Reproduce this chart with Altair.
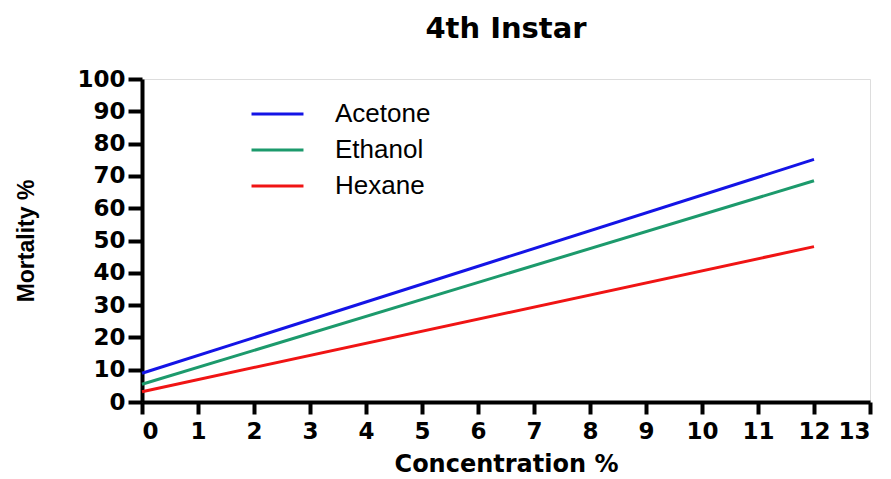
import altair as alt
import pandas as pd

series = ["Acetone", "Ethanol", "Hexane"]
conc = [0, 12]
acetone = [8.9, 75.1]
ethanol = [5.5, 68.5]
hexane = [3.2, 48.1]
colors = ["#1414e6", "#1c9a6c", "#f01414"]

rows = []
for name, vals in zip(series, [acetone, ethanol, hexane]):
    for c, v in zip(conc, vals):
        rows.append({"Solvent": name, "Concentration": c, "Mortality": v})
df = pd.DataFrame(rows)

chart = alt.Chart(df).mark_line(strokeWidth=3).encode(
    x=alt.X("Concentration:Q",
            scale=alt.Scale(domain=[0, 13], nice=False, zero=True),
            axis=alt.Axis(title="Concentration %", values=list(range(0, 14)),
                          grid=False, domainWidth=4, domainColor="black",
                          tickWidth=4, tickSize=12, tickColor="black",
                          labelFont="DejaVu Sans", labelFontWeight="bold",
                          labelFontSize=23, labelColor="black", labelPadding=6,
                          titleFont="DejaVu Sans", titleFontWeight="bold",
                          titleFontSize=24, titleColor="black", titlePadding=9)),
    y=alt.Y("Mortality:Q",
            scale=alt.Scale(domain=[0, 100], nice=False),
            axis=alt.Axis(title="Mortality %", values=list(range(0, 101, 10)),
                          grid=False, domainWidth=4, domainColor="black",
                          tickWidth=4, tickSize=14, tickColor="black",
                          labelFont="DejaVu Sans", labelFontWeight="bold",
                          labelFontSize=23, labelColor="black", labelPadding=3,
                          titleFont="Liberation Sans", titleFontWeight="bold",
                          titleFontSize=23, titleColor="black", titlePadding=38)),
    color=alt.Color("Solvent:N",
                    scale=alt.Scale(domain=series, range=colors),
                    legend=alt.Legend(title=None, orient="none", legendX=108, legendY=17,
                                      symbolType="stroke", symbolSize=2700,
                                      symbolStrokeWidth=3, labelFont="Liberation Sans",
                                      labelFontSize=26, labelColor="black",
                                      labelOffset=30, clipHeight=36, rowPadding=0)),
).properties(
    width=728,
    height=323,
    title=alt.TitleParams("4th Instar", font="DejaVu Sans", fontWeight="bold",
                          fontSize=29, color="black", offset=24, anchor="middle"),
    autosize=alt.AutoSizeParams(type="none"),
    padding={"left": 134, "top": 71, "right": 10, "bottom": 77},
).configure_view(stroke="black", strokeWidth=3).configure(background="white")

chart.save("out.html", embed_options={"renderer": "svg", "actions": False})
